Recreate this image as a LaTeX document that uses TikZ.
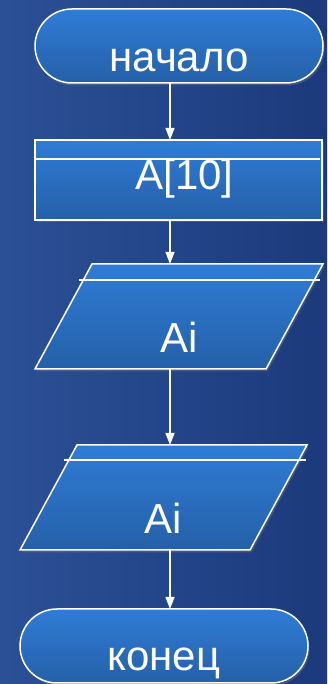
\documentclass[tikz,border=0pt]{standalone}
\usepackage{fontspec}
\setmainfont{Liberation Sans}
\usetikzlibrary{arrows.meta,shadows}
\definecolor{bgleft}{RGB}{44,80,150}
\definecolor{bgright}{RGB}{27,58,124}
\definecolor{shtop}{RGB}{47,124,214}
\definecolor{shbot}{RGB}{37,96,168}
\tikzset{
  fig/.style={draw=white, line width=1.5pt, top color=shtop, bottom color=shbot,
    drop shadow={opacity=0.35, shadow xshift=1.5pt, shadow yshift=-2.5pt}},
  term/.style={fig, rounded corners=37pt, minimum width=288pt, minimum height=74pt, inner sep=0pt, outer sep=0pt},
  frame/.style={minimum width=288pt, minimum height=105pt, inner sep=0pt, outer sep=0pt},
  sep/.style={draw=white, line width=1.5pt},
  flow/.style={draw=white, line width=1.2pt, -{Triangle[length=12pt,width=9pt]}},
  lbl/.style={anchor=base, text=white, font=\fontsize{42}{48}\selectfont, inner sep=0pt}
}
\begin{document}
\begin{tikzpicture}[x=1pt,y=1pt]
    \useasboundingbox (0,0) rectangle (327,684);
    \shade[left color=bgleft, right color=bgright] (0,0) rectangle (327,684);
    \coordinate (axis) at (170,0);

    \node[term] (start) at (179,638) {};
    \node[lbl] (tstart) at ([yshift=-26]start.center) {начало};

    \node[fig, minimum width=287pt, minimum height=80pt, inner sep=0pt, outer sep=0pt] (decl) at (178.5,504) {};
    \draw[sep] ([yshift=-19]decl.north west) -- ([yshift=-19,xshift=-2]decl.north east);
    \node[lbl] (tdecl) at ([xshift=6,yshift=-10]decl.center) {A[10]};

    % input
    \node[frame] (in1) at (179,367.5) {};
    \path[fig] ([xshift=57]in1.north west) -- (in1.north east) -- ([xshift=-57]in1.south east) -- (in1.south west) -- cycle;
    \draw[sep] ([xshift=44,yshift=-16]in1.north west) -- ([xshift=-3,yshift=-16]in1.north east);
    \node[lbl] (tin1) at ([yshift=-36.5]in1.center) {Ai};

    % output
    \node[frame, minimum width=287pt] (out1) at (163.5,186.5) {};
    \path[fig] ([xshift=57]out1.north west) -- (out1.north east) -- ([xshift=-57]out1.south east) -- (out1.south west) -- cycle;
    \draw[sep] ([xshift=44,yshift=-15]out1.north west) -- ([xshift=-1,yshift=-15]out1.north east);
    \node[lbl] (tout1) at ([yshift=-36.5]out1.center) {Ai};

    \node[term] (stop) at (164,38) {};
    \node[lbl] (tstop) at ([yshift=-25]stop.center) {конец};

    \draw[flow] (start.south -| axis) -- (decl.north -| axis);
    \draw[flow] (decl.south -| axis) -- (in1.north -| axis);
    \draw[flow] (in1.south -| axis) -- (out1.north -| axis);
    \draw[flow] (out1.south -| axis) -- (stop.north -| axis);
\end{tikzpicture}
\end{document}
